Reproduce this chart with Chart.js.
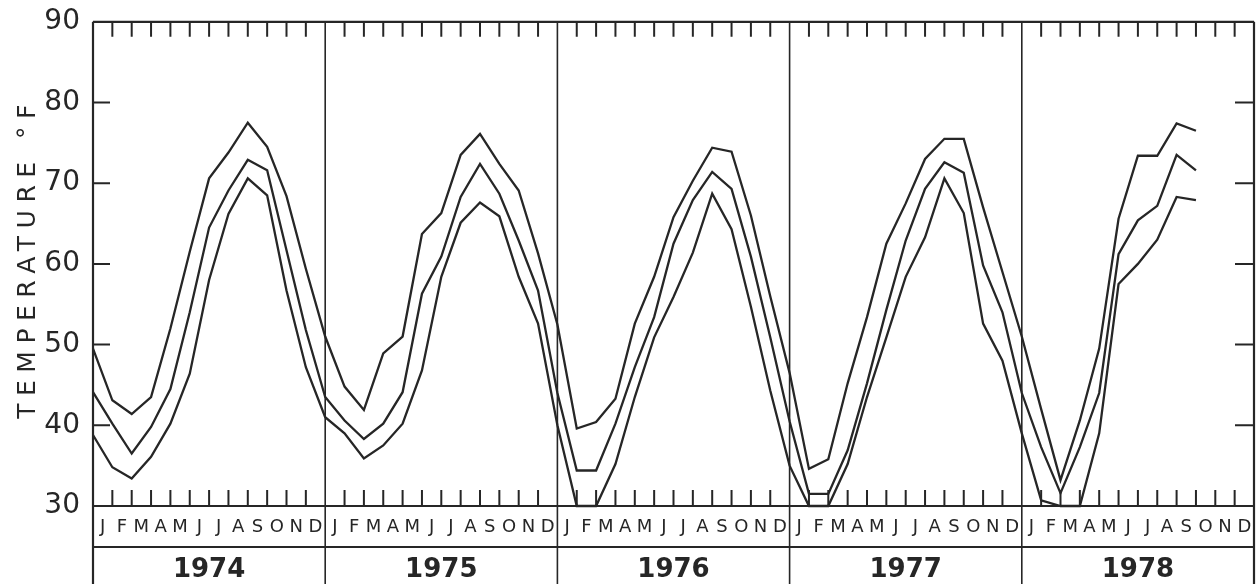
<!DOCTYPE html>
<html>
<head>
<meta charset="utf-8">
<script src="https://cdn.jsdelivr.net/npm/chart.js@4.4.1/dist/chart.umd.min.js"></script>
<style>
  html, body { margin: 0; padding: 0; background: #fff; }
</style>
</head>
<body>
<canvas id="tempChart" width="1256" height="584"></canvas>
<script>
// Monthly temperatures, Jan 1974 - Oct 1978 (deg F)
const months = ["J", "F", "M", "A", "M", "J", "J", "A", "S", "O", "N", "D"];
const years = ["1974", "1975", "1976", "1977", "1978"];

const upper = [
  49.5, 43.1, 41.4, 43.5, 52.0, 61.5, 70.6, 73.8, 77.5, 74.5, 68.4, 59.4,
  51.0, 44.8, 41.9, 48.9, 51.0, 63.7, 66.3, 73.5, 76.1, 72.4, 69.1, 61.3,
  52.5, 39.6, 40.4, 43.3, 52.6, 58.4, 65.8, 70.3, 74.4, 73.9, 66.0, 56.0,
  46.5, 34.6, 35.8, 45.2, 53.4, 62.5, 67.5, 73.0, 75.5, 75.5, 67.0, 59.0,
  51.0, 42.0, 33.2, 40.6, 49.5, 65.6, 73.4, 73.4, 77.4, 76.5
];
const middle = [
  44.1, 40.2, 36.5, 39.8, 44.5, 54.0, 64.5, 69.1, 72.9, 71.6, 61.7, 51.8,
  43.5, 40.6, 38.3, 40.2, 44.1, 56.3, 60.9, 68.3, 72.4, 68.7, 62.9, 56.7,
  44.0, 34.4, 34.4, 40.2, 47.2, 53.4, 62.5, 67.9, 71.4, 69.3, 60.9, 50.9,
  40.5, 31.5, 31.5, 36.9, 45.2, 54.3, 62.9, 69.3, 72.6, 71.3, 59.8, 54.0,
  44.0, 37.3, 31.6, 37.3, 44.0, 61.2, 65.4, 67.2, 73.5, 71.6
];
const lower = [
  38.8, 34.8, 33.4, 36.1, 40.2, 46.4, 58.0, 66.2, 70.6, 68.5, 56.7, 47.2,
  41.0, 39.0, 35.9, 37.5, 40.2, 46.8, 58.4, 65.1, 67.6, 65.9, 58.4, 52.6,
  40.0, 30.0, 30.0, 35.2, 43.5, 50.9, 55.9, 61.4, 68.7, 64.3, 54.7, 44.3,
  35.0, 30.0, 30.0, 35.2, 43.5, 50.9, 58.4, 63.3, 70.6, 66.3, 52.6, 48.0,
  39.0, 30.7, 30.0, 30.0, 39.0, 57.5, 60.0, 63.0, 68.3, 67.9
];

const ink = "#262626";
const font = "DejaVu Sans";
const nMonths = months.length * years.length;

function series(values) {
  return {
    data: values.map((v, i) => ({ x: i, y: v })),
    borderColor: ink,
    borderWidth: 2.3,
    pointRadius: 0,
    tension: 0,
    clip: false
  };
}

// frame, month ticks, month/year strip and axis title
const frame = {
  id: "frame",
  afterDatasetsDraw(chart) {
    const { ctx, chartArea: a, scales: { x, y } } = chart;
    ctx.save();
    ctx.strokeStyle = ink;
    ctx.lineCap = "butt";

    // month ticks, top and bottom
    ctx.lineWidth = 2;
    ctx.beginPath();
    for (let i = 1; i < nMonths; i++) {
      if (i % 12 === 0) continue;
      const px = x.getPixelForValue(i);
      ctx.moveTo(px, a.top);
      ctx.lineTo(px, a.top + 15);
      ctx.moveTo(px, a.bottom);
      ctx.lineTo(px, a.bottom - 16);
    }
    // temperature ticks inside both sides
    y.ticks.forEach(t => {
      if (t.value <= y.min || t.value >= y.max) return;
      const py = y.getPixelForValue(t.value);
      ctx.moveTo(a.left, py);
      ctx.lineTo(a.left + 17, py);
      ctx.moveTo(a.right, py);
      ctx.lineTo(a.right - 19, py);
    });
    ctx.stroke();

    // year dividers run down through the label strip
    for (let k = 0; k <= years.length; k++) {
      const px = x.getPixelForValue(12 * k);
      ctx.lineWidth = (k === 0 || k === years.length) ? 2.2 : 1.6;
      ctx.beginPath();
      ctx.moveTo(px, a.top);
      ctx.lineTo(px, chart.height);
      ctx.stroke();
    }

    // top, bottom and strip lines
    const stripY = a.bottom + 41;
    ctx.lineWidth = 2.2;
    ctx.beginPath();
    ctx.moveTo(a.left, a.top);
    ctx.lineTo(a.right, a.top);
    ctx.moveTo(a.left, a.bottom);
    ctx.lineTo(a.right, a.bottom);
    ctx.moveTo(a.left, stripY);
    ctx.lineTo(a.right, stripY);
    ctx.stroke();

    // month letters and years
    ctx.fillStyle = ink;
    ctx.textAlign = "center";
    ctx.textBaseline = "middle";
    ctx.font = "18px '" + font + "'";
    for (let i = 0; i < nMonths; i++) {
      ctx.fillText(months[i % 12], x.getPixelForValue(i + 0.5), a.bottom + 21);
    }
    ctx.font = "bold 26px '" + font + "'";
    years.forEach((yr, k) => {
      ctx.fillText(yr, x.getPixelForValue(12 * k + 6), stripY + 23);
    });

    // axis title
    ctx.translate(28, (y.top + y.bottom) / 2 - 2);
    ctx.rotate(-Math.PI / 2);
    ctx.font = "25px '" + font + "'";
    ctx.letterSpacing = "7.5px";
    ctx.fillText("TEMPERATURE °F", 4, 0);
    ctx.restore();
  }
};

new Chart(document.getElementById("tempChart"), {
  type: "line",
  data: {
    datasets: [series(upper), series(middle), series(lower)]
  },
  options: {
    responsive: false,
    animation: false,
    layout: { padding: { top: 18, right: 2, bottom: 78, left: 0 } },
    plugins: {
      legend: { display: false },
      tooltip: { enabled: false }
    },
    scales: {
      x: { type: "linear", min: 0, max: nMonths, display: false },
      y: {
        min: 30,
        max: 90,
        ticks: {
          stepSize: 10,
          color: ink,
          padding: 5,
          font: { family: font, size: 28 }
        },
        grid: { display: false },
        border: { display: false },
        afterFit(scale) { scale.width = 93; }
      }
    }
  },
  plugins: [frame]
});
</script>
</body>
</html>
